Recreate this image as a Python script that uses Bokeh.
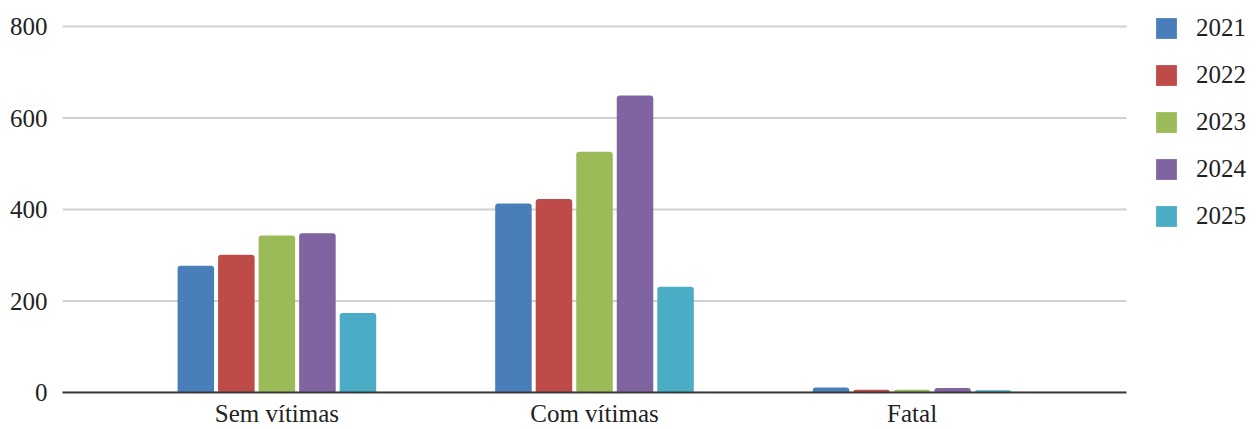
from bokeh.plotting import figure
from bokeh.models import ColumnDataSource, Range1d, FixedTicker, Legend, LegendItem
from bokeh.transform import dodge
from bokeh.embed import file_html
from bokeh.resources import INLINE

categories = ["Sem vítimas", "Com vítimas", "Fatal"]
years = ["2021", "2022", "2023", "2024", "2025"]
v2021 = [277, 413, 11]
v2022 = [301, 423, 6]
v2023 = [343, 526, 6]
v2024 = [348, 649, 10]
v2025 = [174, 231, 5]
y_ticks = [0, 200, 400, 600, 800]
colors = ["#4A7EBB", "#BE4B48", "#9BBB59", "#8064A2", "#4BACC6"]

series = [v2021, v2022, v2023, v2024, v2025]
xpos = list(range(len(categories)))
data = {"x": xpos}
for yr, vals in zip(years, series):
    data[yr] = vals
source = ColumnDataSource(data)

# layout (pixels)
W, H = 1256, 429
LEFT, BOTTOM = 62, 37
PLOT_RIGHT, PLOT_TOP = 1126, 26
frame_w = W - LEFT
frame_h = H - BOTTOM

PAD = 0.675
x_start = -PAD
x_core_end = len(categories) - 1 + PAD
unit_px = (PLOT_RIGHT - LEFT) / (x_core_end - x_start)
x_end = x_start + frame_w / unit_px
y_max = y_ticks[-1]
y_end = y_max * frame_h / (frame_h - PLOT_TOP)

FONT = "Liberation Serif"
p = figure(width=W, height=H, output_backend="svg", toolbar_location=None,
           x_range=Range1d(x_start, x_end), y_range=Range1d(0, y_end),
           min_border_left=LEFT, min_border_right=0, min_border_top=0, min_border_bottom=BOTTOM)
p.outline_line_color = None
p.background_fill_color = "white"
p.border_fill_color = "white"

# horizontal gridlines limited to the plotting area
p.segment(x0=x_start, x1=x_core_end, y0=y_ticks, y1=y_ticks,
          line_color="#d0d0d0", line_width=2, level="underlay")

step = 0.1276
bw = 0.115
renderers = []
for i, (yr, col) in enumerate(zip(years, colors)):
    off = (i - (len(years) - 1) / 2) * step
    r = p.vbar(x=dodge("x", off), top=yr, width=bw, source=source, fill_color=col,
               line_color=None, border_radius=(3, 3, 0, 0))
    renderers.append(r)

p.xgrid.grid_line_color = None
p.ygrid.grid_line_color = None
p.yaxis.ticker = FixedTicker(ticks=y_ticks)
p.yaxis.axis_line_color = None
p.yaxis.major_tick_line_color = None
p.yaxis.minor_tick_line_color = None
p.yaxis.major_tick_out = 0
p.yaxis.minor_tick_out = 0
p.yaxis.major_label_standoff = 15
p.yaxis.major_label_text_font = FONT
p.yaxis.major_label_text_font_size = "25px"
p.yaxis.major_label_text_color = "#222222"

p.xaxis.ticker = FixedTicker(ticks=xpos)
p.xaxis.bounds = (x_start, x_core_end)
p.xaxis.major_label_overrides = {i: c for i, c in enumerate(categories)}
p.xaxis.axis_line_color = "#3a3a3a"
p.xaxis.axis_line_width = 2
p.xaxis.major_tick_line_color = None
p.xaxis.minor_tick_line_color = None
p.xaxis.major_tick_out = 0
p.xaxis.minor_tick_out = 0
p.xaxis.major_label_standoff = 7
p.xaxis.major_label_text_font = FONT
p.xaxis.major_label_text_font_size = "25px"
p.xaxis.major_label_text_color = "#222222"

ITEM_H, SPACING = 29, 18
legend_h = len(years) * ITEM_H + (len(years) - 1) * SPACING
legend = Legend(items=[LegendItem(label=yr, renderers=[r]) for yr, r in zip(years, renderers)],
                location=(1153 - LEFT, frame_h - 13 - legend_h), orientation="vertical",
                glyph_width=26, glyph_height=26, label_height=ITEM_H, spacing=SPACING,
                label_standoff=17, padding=0, margin=0,
                border_line_color=None, background_fill_alpha=0,
                label_text_font=FONT, label_text_font_size="25px", label_text_color="#222222")
p.add_layout(legend)

open("out.html", "w").write(file_html(p, INLINE))
